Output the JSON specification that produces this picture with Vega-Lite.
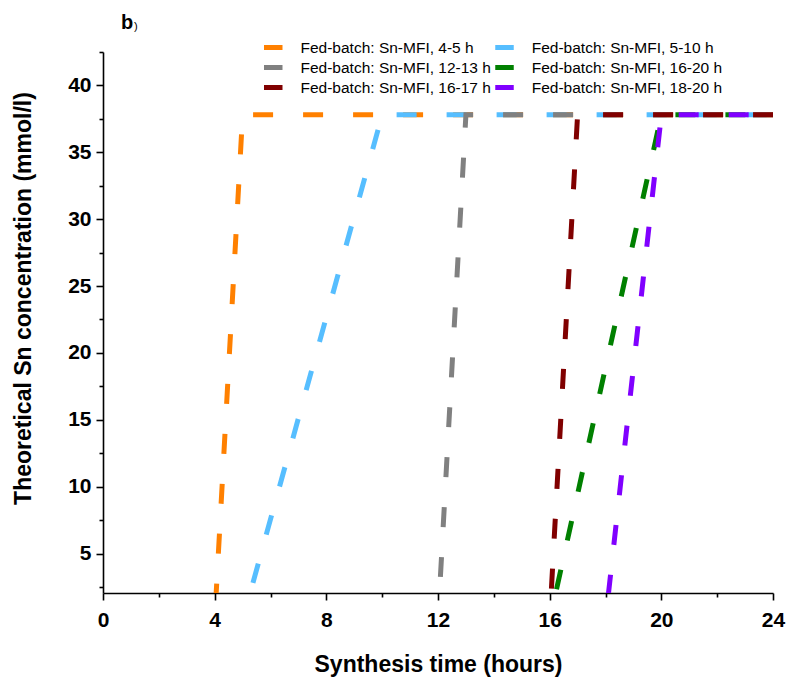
{
  "$schema": "https://vega.github.io/schema/vega-lite/v6.json",
  "width": 670,
  "height": 541,
  "autosize": {"type": "none"},
  "padding": {"left": 103, "top": 52, "right": 15, "bottom": 86},
  "background": "white",
  "config": {
    "view": {"stroke": null},
    "font": "Liberation Sans",
    "axis": {
      "grid": false,
      "domainColor": "black",
      "domainWidth": 1.6,
      "tickColor": "black",
      "tickWidth": 1.6,
      "labelFont": "Liberation Sans",
      "labelFontWeight": "bold",
      "labelFontSize": 21,
      "labelColor": "black",
      "labelFlush": false,
      "titleFont": "Liberation Sans",
      "titleFontWeight": "bold",
      "titleFontSize": 23,
      "titleColor": "black"
    }
  },
  "title": {
    "text": "b",
    "subtitle": ")",
    "anchor": "start",
    "frame": "group",
    "font": "Liberation Sans",
    "fontSize": 20,
    "fontWeight": "bold",
    "color": "black",
    "subtitleFont": "Liberation Sans",
    "subtitleFontSize": 11,
    "subtitleColor": "black",
    "subtitlePadding": -12.5,
    "dx": 18,
    "offset": 7,
    "encode": {"subtitle": {"update": {"dx": {"value": 31}}}}
  },
  "data": {
    "values": [
      {"series": "Fed-batch: Sn-MFI, 4-5 h", "time": 0, "conc": 0},
      {"series": "Fed-batch: Sn-MFI, 4-5 h", "time": 4, "conc": 0},
      {"series": "Fed-batch: Sn-MFI, 4-5 h", "time": 5, "conc": 37.8},
      {"series": "Fed-batch: Sn-MFI, 4-5 h", "time": 24, "conc": 37.8},
      {"series": "Fed-batch: Sn-MFI, 5-10 h", "time": 0, "conc": 0},
      {"series": "Fed-batch: Sn-MFI, 5-10 h", "time": 5, "conc": 0},
      {"series": "Fed-batch: Sn-MFI, 5-10 h", "time": 10, "conc": 37.8},
      {"series": "Fed-batch: Sn-MFI, 5-10 h", "time": 24, "conc": 37.8},
      {"series": "Fed-batch: Sn-MFI, 12-13 h", "time": 0, "conc": 0},
      {"series": "Fed-batch: Sn-MFI, 12-13 h", "time": 12, "conc": 0},
      {"series": "Fed-batch: Sn-MFI, 12-13 h", "time": 13, "conc": 37.8},
      {"series": "Fed-batch: Sn-MFI, 12-13 h", "time": 24, "conc": 37.8},
      {"series": "Fed-batch: Sn-MFI, 16-17 h", "time": 0, "conc": 0},
      {"series": "Fed-batch: Sn-MFI, 16-17 h", "time": 16, "conc": 0},
      {"series": "Fed-batch: Sn-MFI, 16-17 h", "time": 17, "conc": 37.8},
      {"series": "Fed-batch: Sn-MFI, 16-17 h", "time": 24, "conc": 37.8},
      {"series": "Fed-batch: Sn-MFI, 16-20 h", "time": 0, "conc": 0},
      {"series": "Fed-batch: Sn-MFI, 16-20 h", "time": 16, "conc": 0},
      {"series": "Fed-batch: Sn-MFI, 16-20 h", "time": 20, "conc": 37.8},
      {"series": "Fed-batch: Sn-MFI, 16-20 h", "time": 24, "conc": 37.8},
      {"series": "Fed-batch: Sn-MFI, 18-20 h", "time": 0, "conc": 0},
      {"series": "Fed-batch: Sn-MFI, 18-20 h", "time": 18, "conc": 0},
      {"series": "Fed-batch: Sn-MFI, 18-20 h", "time": 20, "conc": 37.8},
      {"series": "Fed-batch: Sn-MFI, 18-20 h", "time": 24, "conc": 37.8}
    ]
  },
  "mark": {
    "type": "line",
    "clip": true,
    "strokeWidth": 5,
    "strokeDash": [20, 30],
    "strokeDashOffset": 21.5,
    "strokeCap": "butt"
  },
  "encoding": {
    "x": {
      "field": "time",
      "type": "quantitative",
      "scale": {"domain": [0, 24], "nice": false},
      "axis": {
        "title": "Synthesis time (hours)",
        "values": [0, 2, 4, 6, 8, 10, 12, 14, 16, 18, 20, 22, 24],
        "labelExpr": "datum.value % 4 === 0 ? datum.label : ''",
        "tickSize": {"condition": {"test": "datum.value % 4 === 0", "value": 7}, "value": 4},
        "labelPadding": 9,
        "titleBaseline": "alphabetic",
        "titleY": 78
      }
    },
    "y": {
      "field": "conc",
      "type": "quantitative",
      "scale": {"domain": [2.05, 42.5], "nice": false, "zero": false},
      "axis": {
        "title": "Theoretical Sn concentration (mmol/l)",
        "values": [2.5, 5, 7.5, 10, 12.5, 15, 17.5, 20, 22.5, 25, 27.5, 30, 32.5, 35, 37.5, 40, 42.5],
        "labelExpr": "datum.value % 5 === 0 ? datum.label : ''",
        "tickSize": {"condition": {"test": "datum.value % 5 === 0", "value": 7}, "value": 4},
        "labelPadding": 5,
        "titleBaseline": "alphabetic",
        "titleX": -72.5,
        "titleY": 246
      }
    },
    "color": {
      "field": "series",
      "type": "nominal",
      "scale": {
        "domain": [
          "Fed-batch: Sn-MFI, 4-5 h",
          "Fed-batch: Sn-MFI, 12-13 h",
          "Fed-batch: Sn-MFI, 16-17 h",
          "Fed-batch: Sn-MFI, 5-10 h",
          "Fed-batch: Sn-MFI, 16-20 h",
          "Fed-batch: Sn-MFI, 18-20 h"
        ],
        "range": ["#FF8000", "#808080", "#800000", "#56BEFF", "#008000", "#8000FF"]
      },
      "legend": {
        "title": null,
        "orient": "none",
        "legendX": 161,
        "legendY": -12,
        "columns": 2,
        "symbolType": "M-2,0H2",
        "symbolSize": 110.25,
        "symbolStrokeWidth": 5,
        "symbolDash": [],
        "labelFont": "Liberation Sans",
        "labelFontSize": 15.5,
        "labelColor": "black",
        "labelOffset": 20.5,
        "labelLimit": 300,
        "columnPadding": 4.25,
        "rowPadding": 4,
        "clipHeight": 15
      }
    }
  }
}
